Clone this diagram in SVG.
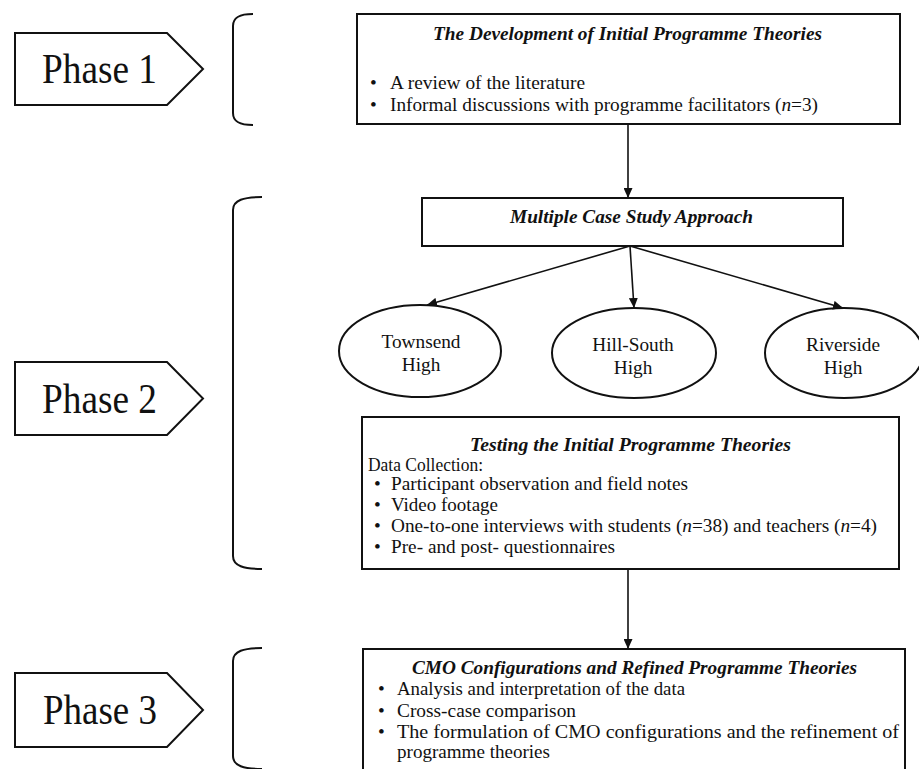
<svg xmlns="http://www.w3.org/2000/svg" width="919" height="769" viewBox="0 0 919 769">
  <style>
    .shape { fill: #fff; stroke: #111; stroke-width: 2; }
    .brace { fill: none; stroke: #111; stroke-width: 2; }
    .conn { fill: none; stroke: #111; stroke-width: 1.6; marker-end: url(#arrow); }
    text { font-family: "Liberation Serif", "Times New Roman", serif; fill: #111; }
    .phase { font-size: 42px; }
    .body { font-size: 19.3px; }
    .title { font-size: 19.3px; font-weight: bold; font-style: italic; }
    .mid { text-anchor: middle; }
    .it { font-style: italic; }
  </style>
  <defs>
    <marker id="arrow" markerUnits="userSpaceOnUse" markerWidth="10" markerHeight="9" refX="10" refY="4.5" orient="auto">
      <path d="M0,0 L10,4.5 L0,9 Z" fill="#111"/>
    </marker>
  </defs>
  <rect width="919" height="769" fill="#fff"/>

  <!-- phase labels -->
  <g id="phase1">
    <path class="shape" d="M15,33 H167 L203,69 L167,105 H15 Z"/>
    <text class="phase" x="42" y="83" textLength="115" lengthAdjust="spacingAndGlyphs">Phase 1</text>
  </g>
  <g id="phase2">
    <path class="shape" d="M15,362 H167 L203,398.5 L167,435 H15 Z"/>
    <text class="phase" x="42" y="413" textLength="115" lengthAdjust="spacingAndGlyphs">Phase 2</text>
  </g>
  <g id="phase3">
    <path class="shape" d="M15,673 H167 L203,710 L167,747 H15 Z"/>
    <text class="phase" x="43" y="724" textLength="114" lengthAdjust="spacingAndGlyphs">Phase 3</text>
  </g>

  <!-- brackets -->
  <g id="brackets">
    <path class="brace" d="M253,14 C240,14 233,17 233,26 V113 C233,122 240,125 253,125"/>
    <path class="brace" d="M262,197 C244,197 233,200 233,210 V556 C233,566 244,569 262,569"/>
    <path class="brace" d="M262,648 C244,648 233,651 233,661 V756 C233,766 244,769 262,769"/>
  </g>

  <!-- phase 1 box -->
  <g id="initial-theories">
    <rect class="shape" x="357" y="14" width="543" height="110"/>
    <text class="title" x="433" y="40" textLength="389" lengthAdjust="spacingAndGlyphs">The Development of Initial Programme Theories</text>
    <text class="body" x="370" y="89">•</text>
    <text class="body" x="390" y="89" textLength="195" lengthAdjust="spacingAndGlyphs">A review of the literature</text>
    <text class="body" x="370" y="111">•</text>
    <text class="body" x="390" y="111" textLength="428" lengthAdjust="spacingAndGlyphs">Informal discussions with programme facilitators (<tspan class="it">n</tspan>=3)</text>
  </g>

  <!-- case study box -->
  <g id="case-study">
    <rect class="shape" x="422" y="198" width="421" height="48"/>
    <text class="title" x="510" y="223" textLength="243" lengthAdjust="spacingAndGlyphs">Multiple Case Study Approach</text>
  </g>

  <!-- schools -->
  <g id="townsend">
    <ellipse class="shape" cx="420" cy="351" rx="81" ry="46"/>
    <text class="body mid" x="421" y="348">Townsend</text>
    <text class="body mid" x="421" y="371">High</text>
  </g>
  <g id="hill-south">
    <ellipse class="shape" cx="634" cy="353" rx="82" ry="45"/>
    <text class="body mid" x="633" y="351">Hill-South</text>
    <text class="body mid" x="633" y="374">High</text>
  </g>
  <g id="riverside">
    <ellipse class="shape" cx="844" cy="353" rx="79" ry="45"/>
    <text class="body mid" x="843" y="351">Riverside</text>
    <text class="body mid" x="843" y="374">High</text>
  </g>

  <!-- testing box -->
  <g id="testing">
    <rect class="shape" x="362" y="417" width="537" height="152"/>
    <text class="title" x="470" y="451" textLength="321" lengthAdjust="spacingAndGlyphs">Testing the Initial Programme Theories</text>
    <text class="body" x="368" y="471" textLength="115" lengthAdjust="spacingAndGlyphs">Data Collection:</text>
    <text class="body" x="374" y="490">•</text>
    <text class="body" x="391" y="490" textLength="297" lengthAdjust="spacingAndGlyphs">Participant observation and field notes</text>
    <text class="body" x="374" y="511">•</text>
    <text class="body" x="391" y="511" textLength="107" lengthAdjust="spacingAndGlyphs">Video footage</text>
    <text class="body" x="374" y="532">•</text>
    <text class="body" x="391" y="532" textLength="486" lengthAdjust="spacingAndGlyphs">One-to-one interviews with students (<tspan class="it">n</tspan>=38) and teachers (<tspan class="it">n</tspan>=4)</text>
    <text class="body" x="374" y="553">•</text>
    <text class="body" x="391" y="553" textLength="224" lengthAdjust="spacingAndGlyphs">Pre- and post- questionnaires</text>
  </g>

  <!-- phase 3 box -->
  <g id="cmo">
    <rect class="shape" x="363" y="649" width="542" height="130"/>
    <text class="title" x="412" y="674" textLength="445" lengthAdjust="spacingAndGlyphs">CMO Configurations and Refined Programme Theories</text>
    <text class="body" x="378" y="695">•</text>
    <text class="body" x="397" y="695" textLength="288" lengthAdjust="spacingAndGlyphs">Analysis and interpretation of the data</text>
    <text class="body" x="378" y="717">•</text>
    <text class="body" x="397" y="717" textLength="179" lengthAdjust="spacingAndGlyphs">Cross-case comparison</text>
    <text class="body" x="378" y="738">•</text>
    <text class="body" x="397" y="738" textLength="502" lengthAdjust="spacingAndGlyphs">The formulation of CMO configurations and the refinement of</text>
    <text class="body" x="397" y="758" textLength="153" lengthAdjust="spacingAndGlyphs">programme theories</text>
  </g>

  <!-- connectors -->
  <g id="connectors">
    <line class="conn" x1="628" y1="125" x2="628" y2="198"/>
    <line class="conn" x1="630" y1="246" x2="427" y2="305"/>
    <line class="conn" x1="630" y1="246" x2="634" y2="308"/>
    <line class="conn" x1="630" y1="246" x2="843" y2="308"/>
    <line class="conn" x1="628" y1="570" x2="628" y2="649"/>
  </g>
</svg>
